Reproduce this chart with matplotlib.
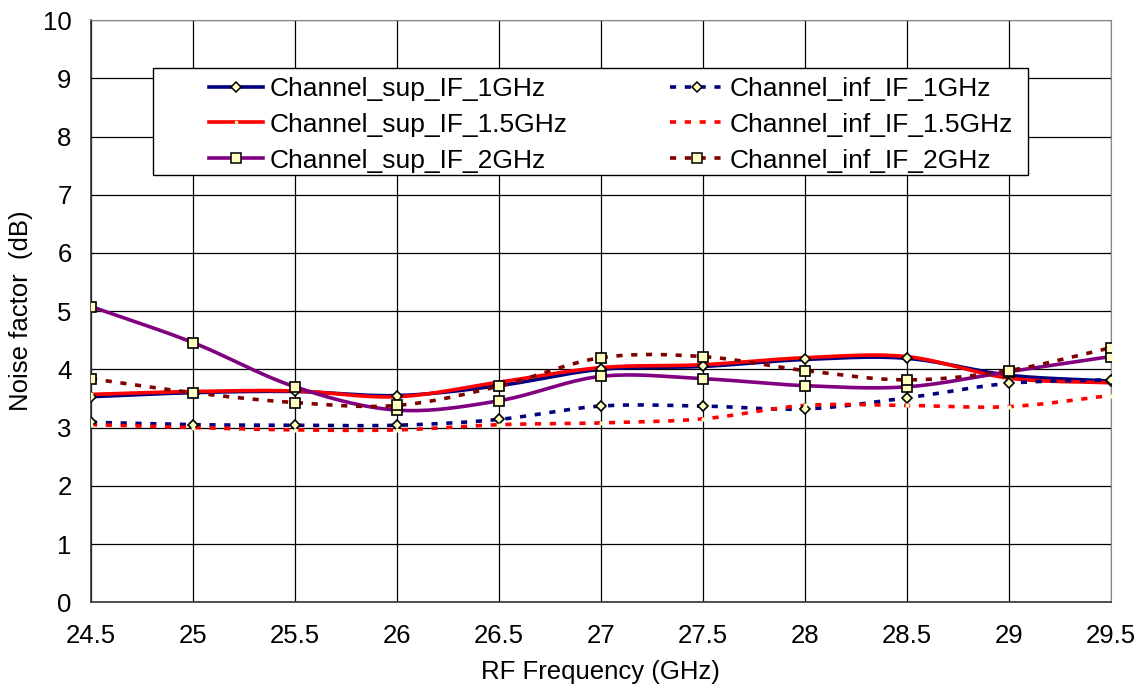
import matplotlib
matplotlib.use("Agg")
import matplotlib.pyplot as plt
from matplotlib.patches import Rectangle
import numpy as np

plt.rcParams['font.family'] = ['Liberation Sans', 'DejaVu Sans']

freq = [24.5, 25, 25.5, 26, 26.5, 27, 27.5, 28, 28.5, 29, 29.5]

sup_1ghz = [3.53, 3.60, 3.62, 3.55, 3.72, 4.00, 4.05, 4.17, 4.19, 3.90, 3.80]
sup_15ghz = [3.57, 3.62, 3.63, 3.53, 3.78, 4.03, 4.08, 4.20, 4.22, 3.85, 3.77]
sup_2ghz = [5.08, 4.46, 3.70, 3.30, 3.46, 3.88, 3.84, 3.72, 3.70, 3.96, 4.22]
inf_1ghz = [3.09, 3.05, 3.04, 3.04, 3.14, 3.37, 3.37, 3.32, 3.51, 3.76, 3.82]
inf_15ghz = [3.05, 3.00, 2.96, 2.96, 3.05, 3.08, 3.15, 3.38, 3.38, 3.36, 3.55]
inf_2ghz = [3.84, 3.60, 3.43, 3.38, 3.71, 4.20, 4.22, 3.98, 3.82, 3.98, 4.37]


def smooth(x, y, n=20):
    # Catmull-Rom curve through the points, like Excel's smoothed line
    x = np.asarray(x, float)
    y = np.asarray(y, float)
    px = np.concatenate([[2 * x[0] - x[1]], x, [2 * x[-1] - x[-2]]])
    py = np.concatenate([[2 * y[0] - y[1]], y, [2 * y[-1] - y[-2]]])
    xs, ys = [], []
    t = np.linspace(0, 1, n, endpoint=False)
    for i in range(1, len(px) - 2):
        for arr, out in ((px, xs), (py, ys)):
            p0, p1, p2, p3 = arr[i - 1], arr[i], arr[i + 1], arr[i + 2]
            out.extend(0.5 * ((2 * p1) + (-p0 + p2) * t
                              + (2 * p0 - 5 * p1 + 4 * p2 - p3) * t ** 2
                              + (-p0 + 3 * p1 - 3 * p2 + p3) * t ** 3))
    xs.append(x[-1])
    ys.append(y[-1])
    return xs, ys


fig = plt.figure(figsize=(11.45, 6.93), dpi=100)
ax = fig.add_axes([0.0795, 0.131, 0.8905, 0.840])

fill = '#FFFFC0'
dash = (0, (1.7, 2.4))
series = [
    (sup_1ghz, 'Channel_sup_IF_1GHz', '#000080', '-', 'D', 5.5, 'k'),
    (sup_15ghz, 'Channel_sup_IF_1.5GHz', '#FF0000', '-', 'o', 3, fill),
    (sup_2ghz, 'Channel_sup_IF_2GHz', '#800080', '-', 's', 7.8, 'k'),
    (inf_1ghz, 'Channel_inf_IF_1GHz', '#000080', dash, 'D', 5.5, 'k'),
    (inf_15ghz, 'Channel_inf_IF_1.5GHz', '#FF0000', dash, 'o', 3, fill),
    (inf_2ghz, 'Channel_inf_IF_2GHz', '#800000', dash, 's', 7.8, 'k'),
]

handles = []
for vals, name, col, ls, mk, ms, mec in series:
    sx, sy = smooth(freq, vals)
    ax.plot(sx, sy, color=col, lw=2.6, ls=ls,
            solid_capstyle='butt', dash_capstyle='butt', zorder=3)
    ax.plot(freq, vals, ls='none', marker=mk, ms=ms, mfc=fill, mec=mec,
            mew=1.2 if mec == 'k' else 0, zorder=4)
    h, = ax.plot([], [], color=col, lw=2.6, ls=ls, marker=mk,
                 ms=ms * 0.85, mfc=fill, mec=mec, mew=1.1 if mec == 'k' else 0)
    handles.append(h)

ax.set_xlim(24.5, 29.5)
ax.set_ylim(0, 10)
ax.set_xticks(np.arange(24.5, 29.51, 0.5))
ax.set_xticklabels(['24.5', '25', '25.5', '26', '26.5', '27', '27.5', '28',
                    '28.5', '29', '29.5'])
ax.set_yticks(range(0, 11))
ax.grid(True, color='black', lw=0.9)
ax.set_axisbelow(True)
ax.tick_params(length=0, labelsize=18.5)
ax.tick_params(axis='x', pad=16)
ax.tick_params(axis='y', pad=14)
for side in ['top', 'right']:
    ax.spines[side].set_color('#888888')
for side in ['left', 'bottom']:
    ax.spines[side].set_color('#333333')
    ax.spines[side].set_linewidth(1.2)

ax.set_xlabel('RF Frequency (GHz)', fontsize=18.5, labelpad=8)
ax.set_ylabel('Noise factor  (dB)', fontsize=18.5, labelpad=7)

# legend box drawn by hand, two legends inside it (one per column)
ax.add_patch(Rectangle((0.0608, 0.734), 0.858, 0.1835, transform=ax.transAxes,
                       facecolor='white', edgecolor='black', lw=1.0, zorder=5))
kw = dict(loc='upper left', frameon=False, handlelength=2.05, fontsize=19,
          borderpad=0, labelspacing=0.45, handletextpad=0.23, borderaxespad=0)
leg1 = ax.legend(handles[:3], [s[1] for s in series[:3]],
                 bbox_to_anchor=(0.1157, 0.9025), **kw)
leg1.set_zorder(6)
ax.add_artist(leg1)
leg2 = ax.legend(handles[3:], [s[1] for s in series[3:]],
                 bbox_to_anchor=(0.5676, 0.9025), **kw)
leg2.set_zorder(6)

fig.savefig('out.png', dpi=100)
